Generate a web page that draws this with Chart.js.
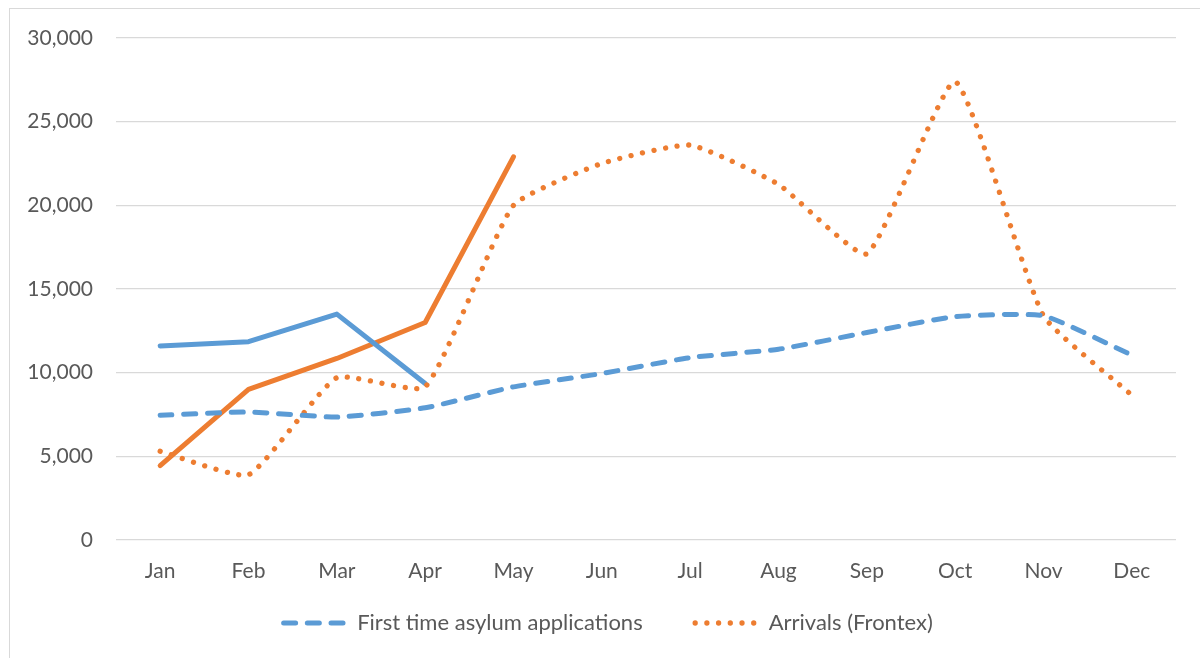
<!DOCTYPE html>
<html>
<head>
<meta charset="utf-8">
<script src="https://cdn.jsdelivr.net/npm/chart.js@4.4.1/dist/chart.umd.min.js"></script>
<style>
  html, body { margin: 0; padding: 0; background: #ffffff; }
  #frame { position: absolute; left: 9px; top: 8px; width: 1300px; height: 800px;
           border-left: 1px solid #d9d9d9; border-top: 1px solid #d9d9d9; }
  #wrap { position: absolute; left: 0; top: 0; width: 1200px; height: 658px; }
</style>
</head>
<body>
<div id="frame"></div>
<div id="wrap"><canvas id="c" width="1200" height="658"></canvas></div>
<script>
const months = ['Jan','Feb','Mar','Apr','May','Jun','Jul','Aug','Sep','Oct','Nov','Dec'];
const asylumApps = [7450, 7650, 7350, 7900, 9150, 9950, 10900, 11400, 12400, 13350, 13400, 11050];
const arrivals = [5300, 3900, 9700, 9150, 20000, 22500, 23600, 21250, 17100, 27400, 13400, 8650];
const asylumApps2016 = [11600, 11850, 13500, 9350];
const arrivals2016 = [4450, 9000, 10850, 13000, 22900];
const yTicks = [0, 5000, 10000, 15000, 20000, 25000, 30000];

const BLUE = '#5B9BD5', ORANGE = '#ED7D31', TEXT = '#595959', GRID = '#d9d9d9';
const FONT = 'Lato, "Open Sans", sans-serif';
const DASH = [12, 11.7], DOT = [0.01, 11.7];

const customLegend = {
  id: 'customLegend',
  afterDraw(chart) {
    const ctx = chart.ctx;
    const items = chart.data.datasets.filter(d => d.inLegend);
    const sample = 62, gapText = 14, gapItem = 50, cy = 623;
    ctx.save();
    ctx.font = '22px ' + FONT;
    const widths = items.map(d => ctx.measureText(d.label).width);
    let total = 0;
    items.forEach((d, i) => { total += sample + gapText + widths[i] + (i ? gapItem : 0); });
    let x = 607 - total / 2;
    items.forEach((d, i) => {
      if (i) x += gapItem;
      ctx.beginPath();
      ctx.strokeStyle = d.borderColor;
      ctx.lineWidth = d.borderWidth;
      ctx.lineCap = 'round';
      ctx.setLineDash(d.borderDash || []);
      ctx.moveTo(x + 2.5, cy);
      ctx.lineTo(x + sample + 2.5, cy);
      ctx.stroke();
      ctx.setLineDash([]);
      x += sample + gapText;
      ctx.fillStyle = TEXT;
      ctx.textBaseline = 'middle';
      ctx.textAlign = 'left';
      ctx.fillText(d.label, x, cy);
      x += widths[i];
    });
    ctx.restore();
  }
};

new Chart(document.getElementById('c'), {
  type: 'line',
  data: {
    labels: months,
    datasets: [
      { label: 'First time asylum applications', inLegend: true, data: asylumApps, borderColor: BLUE, backgroundColor: BLUE,
        borderWidth: 5, borderDash: DASH, borderCapStyle: 'round', tension: 0.16, pointRadius: 0, fill: false },
      { label: 'Arrivals (Frontex)', inLegend: true, data: arrivals, borderColor: ORANGE, backgroundColor: ORANGE,
        borderWidth: 5.3, borderDash: DOT, borderCapStyle: 'round', tension: 0.15, pointRadius: 0, fill: false },
      { label: 'asylum2016', data: asylumApps2016, borderColor: BLUE, backgroundColor: BLUE,
        borderWidth: 5, borderCapStyle: 'round', borderJoinStyle: 'round', tension: 0, pointRadius: 0, fill: false },
      { label: 'arrivals2016', data: arrivals2016, borderColor: ORANGE, backgroundColor: ORANGE,
        borderWidth: 5, borderCapStyle: 'round', borderJoinStyle: 'round', tension: 0, pointRadius: 0, fill: false }
    ]
  },
  options: {
    responsive: false,
    animation: false,
    events: [],
    layout: { padding: { top: 38, right: 24, left: 0, bottom: 0 } },
    scales: {
      x: {
        type: 'category',
        offset: true,
        afterFit: (s) => { s.height = 118; },
        grid: { display: false, drawTicks: false },
        border: { display: false },
        ticks: { color: TEXT, font: { family: FONT, size: 21 }, padding: 19, maxRotation: 0 }
      },
      y: {
        min: 0, max: 30000,
        afterFit: (s) => { s.width = 116; },
        afterBuildTicks: (s) => { s.ticks = yTicks.map(v => ({ value: v })); },
        grid: { color: GRID, lineWidth: 1.3, drawTicks: false },
        border: { display: false },
        ticks: { color: TEXT, font: { family: FONT, size: 21 }, padding: 23,
                 callback: (v) => v.toLocaleString('en-US') }
      }
    },
    plugins: {
      tooltip: { enabled: false },
      legend: { display: false }
    }
  },
  plugins: [customLegend]
});
</script>
</body>
</html>
